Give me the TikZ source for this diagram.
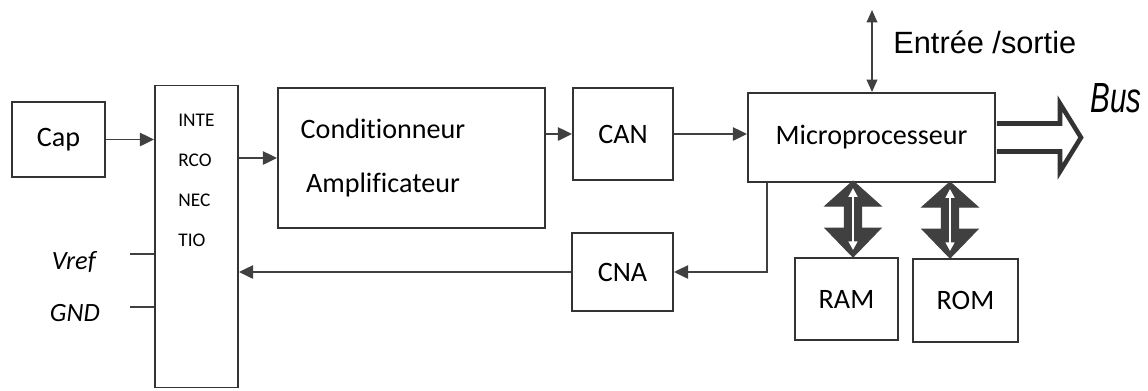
\documentclass[tikz,border=0pt]{standalone}
\usepackage{fontspec}
\setmainfont[Ligatures=NoCommon]{Carlito}
\newfontfamily\arialfont{Liberation Sans}
\newfontfamily\busfont[FakeStretch=0.7]{Liberation Sans}
\usepackage{tikz}
\usetikzlibrary{arrows.meta, positioning, calc}

\begin{document}
\begin{tikzpicture}[
  x=0.02cm, y=-0.02cm,
  font=\fontsize{16}{19}\selectfont, >=Triangle,
  blk/.style={draw=black!80, line width=1.1pt, fill=white, inner sep=0pt},
  arr/.style={->, >={Triangle[length=8pt,width=7.5pt]}, draw=black!75, line width=1.1pt},
  wire/.style={draw=black!75, line width=1.1pt},
  memarr/.style={fill=black!75, draw=black!75, line width=0.6pt, line join=miter}
]
  \useasboundingbox (0,0) rectangle (1148,390);

  %--- blocks ---
  \node[blk, minimum width=93*0.02cm, minimum height=75*0.02cm]
    (cap) at (58.5,139.5) {Cap};
  \node[blk, minimum width=83*0.02cm, minimum height=302*0.02cm]
    (inter) at (196.5,236.5) {};
  \node[font=\fontsize{11}{22.7}\selectfont, align=left, anchor=north west, inner sep=0pt]
    (intertxt) at (178,114) {INTE\\RCO\\NEC\\TIO};
  \node[blk, minimum width=267*0.02cm, minimum height=140*0.02cm]
    (cond) at (411.5,158) {};
  \node[align=center, font=\fontsize{16}{31}\selectfont, inner sep=0pt]
    (condtxt) at (383,158) {Conditionneur\\Amplificateur};
  \node[blk, minimum width=100*0.02cm, minimum height=92*0.02cm]
    (can) at (623,134) {CAN};
  \node[blk, minimum width=247*0.02cm, minimum height=89*0.02cm]
    (micro) at (871.5,137.5) {Microprocesseur};
  \node[blk, minimum width=101*0.02cm, minimum height=78*0.02cm]
    (cna) at (622.5,272) {CNA};
  \node[blk, minimum width=103*0.02cm, minimum height=82*0.02cm]
    (ram) at (846.5,299) {RAM};
  \node[blk, minimum width=105*0.02cm, minimum height=83*0.02cm]
    (rom) at (965.5,300.5) {ROM};

  %--- side labels ---
  \node[font=\fontsize{15}{18}\selectfont\itshape, anchor=east] (vref) at (102,262) {Vref};
  \node[font=\fontsize{15}{18}\selectfont\itshape, anchor=east] (gnd) at (106,313) {GND};
  \node[font=\arialfont\fontsize{17.5}{20}\selectfont, anchor=west, inner sep=0pt]
    (io) at (893,42) {Entrée /sortie};
  \node[font=\busfont\itshape\fontsize{24}{28}\selectfont, anchor=east, inner sep=0pt]
    (bus) at (1142,98) {Bus};

  %--- signal path ---
  \draw[arr] (cap) -- (cap -| inter.west);
  \draw[arr] (cond.west -| inter.east) -- (cond.west);
  \draw[arr] (can.west -| cond.east) -- (can.west);
  \draw[arr] (can.east) -- (can.east -| micro.west);
  \draw[arr] ([xshift=0.4cm]micro.south west) |- (cna.east);
  \draw[arr] (cna.west) -- (cna.west -| inter.east);

  % Vref / GND stubs
  \coordinate (vrefend) at (130,254);
  \coordinate (gndend) at (130,307);
  \draw[wire] (vrefend) -- (vrefend -| inter.west);
  \draw[wire] (gndend) -- (gndend -| inter.west);

  % entree / sortie
  \coordinate (iotop) at (872,10);
  \draw[<->, >={Triangle[length=7pt,width=6pt]}, draw=black!75, line width=1pt]
    (iotop) -- (iotop |- micro.north);

  % bus (hollow arrow)
  \begin{scope}[shift={(micro.east)}]
    \draw[draw=black!80, fill=white, line width=2.6pt, line join=miter]
      (1,-14) -- (64,-14) -- (64,-34) -- (85,0) -- (64,34) -- (64,14) -- (1,14);
  \end{scope}

  % memory links
  \foreach \m/\dx in {ram/6.5, rom/-15.5} {
    \begin{scope}[shift={($(\m.north)+(\dx,0)$)}]
      \draw[memarr] (0,0) -- (-28,-29) -- (-8.5,-29) -- (-8.5,-51) -- (-28,-51)
        -- (0,-76) -- (28,-51) -- (8.5,-51) -- (8.5,-29) -- (28,-29) -- cycle;
      \draw[<->, >={Triangle[length=5pt,width=5pt]}, white, line width=1.2pt]
        (0,-7) -- (0,-69);
    \end{scope}
  }
\end{tikzpicture}
\end{document}
